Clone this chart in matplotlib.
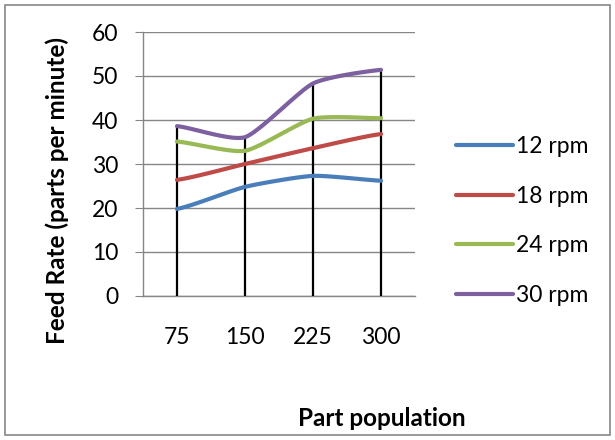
import matplotlib.pyplot as plt
import numpy as np

# feed rate data per drum speed
populations = ["75", "150", "225", "300"]
rpm_labels = ["12 rpm", "18 rpm", "24 rpm", "30 rpm"]
rate_12 = [19.8, 24.8, 27.3, 26.2]
rate_18 = [26.4, 30.0, 33.6, 36.8]
rate_24 = [35.1, 33.0, 40.3, 40.4]
rate_30 = [38.6, 36.1, 48.3, 51.4]
colors = ["#4A7EBB", "#BE4B48", "#98B954", "#7D60A0"]

plt.rcParams['font.family'] = ['Lato', 'DejaVu Sans']


def smooth(x, y, steps=30):
    # Catmull-Rom style curve through the points, like a spreadsheet smoothed line
    x = np.asarray(x, float)
    y = np.asarray(y, float)
    px = np.concatenate([[2 * x[0] - x[1]], x, [2 * x[-1] - x[-2]]])
    py = np.concatenate([[y[0]], y, [y[-1]]])
    xs, ys = [], []
    for i in range(1, len(px) - 2):
        t = np.linspace(0, 1, steps)
        for p, out in ((px, xs), (py, ys)):
            p0, p1, p2, p3 = p[i - 1], p[i], p[i + 1], p[i + 2]
            m1 = (p2 - p0) / 2 * 0.6
            m2 = (p3 - p1) / 2 * 0.6
            h00 = 2 * t**3 - 3 * t**2 + 1
            h10 = t**3 - 2 * t**2 + t
            h01 = -2 * t**3 + 3 * t**2
            h11 = t**3 - t**2
            out.extend(h00 * p1 + h10 * m1 + h01 * p2 + h11 * m2)
    return np.array(xs), np.array(ys)


fig = plt.figure(figsize=(6.15, 4.4), dpi=100)
fig.patches.append(plt.Rectangle((0.008, 0.011), 0.984, 0.978, transform=fig.transFigure,
                                 fill=False, edgecolor="#888888", linewidth=1.2))
ax = fig.add_axes([143 / 615, 1 - 296 / 440, 272 / 615, 264 / 440])

x = np.arange(len(populations))
series = [rate_12, rate_18, rate_24, rate_30]

# drop lines from the highest point down to the axis
tops = np.max(np.array(series), axis=0)
ax.vlines(x, 0, tops, color="black", linewidth=1.6, zorder=3)

for vals, lab, c in zip(series, rpm_labels, colors):
    sx, sy = smooth(x, vals)
    ax.plot(sx, sy, color=c, linewidth=3, solid_capstyle="round", label=lab, zorder=4)

ax.set_xlim(-0.5, 3.5)
ax.set_ylim(0, 60)
ax.set_yticks(range(0, 61, 10))
ax.set_xticks(x)
ax.set_xticklabels(populations)
ax.yaxis.grid(True, color="#868686", linewidth=1)
ax.set_axisbelow(True)
for side in ["top", "right"]:
    ax.spines[side].set_visible(False)
for side in ["left", "bottom"]:
    ax.spines[side].set_color("#868686")
    ax.spines[side].set_linewidth(1)
ax.tick_params(axis="y", length=6, color="#868686", labelsize=16.5, pad=12)
ax.tick_params(axis="x", length=0, labelsize=16.5, pad=22)

fig.text(57 / 615, 1 - 190 / 440, "Feed Rate (parts per minute)", rotation=90,
         ha="center", va="center", fontsize=17.5, fontweight="bold")
fig.text(382 / 615, 1 - 418 / 440, "Part population", ha="center", va="center",
         fontsize=17.5, fontweight="bold")

ax.legend(loc="center left", bbox_to_anchor=(435 / 615, 1 - 221 / 440),
          bbox_transform=fig.transFigure, frameon=False, fontsize=16.5,
          handlelength=2.5, handletextpad=0.15, labelspacing=1.25)

fig.savefig("out.png", dpi=100)
